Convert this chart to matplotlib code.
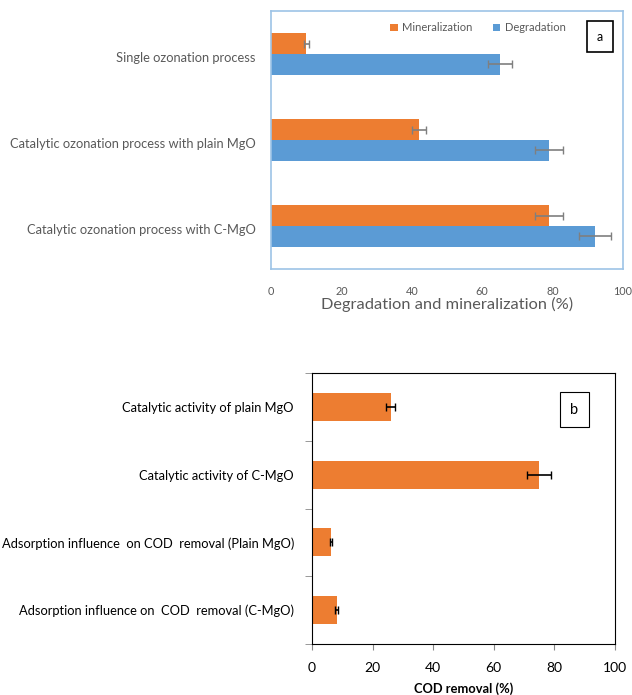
import numpy as np
import matplotlib.pyplot as plt
from matplotlib.patches import Rectangle

plt.rcParams['font.family'] = ['Lato', 'DejaVu Sans']

# panel a: ozonation processes
processes = ["Single ozonation process",
             "Catalytic ozonation process with plain MgO",
             "Catalytic ozonation process with C-MgO"]
mineralization = [10, 42, 79]
mineralization_err = [0.7, 2, 4]
degradation = [65, 79, 92]
degradation_err = [3.4, 4, 4.6]

# panel b: COD removal
cod_labels = ["Catalytic activity of plain MgO",
              "Catalytic activity of C-MgO",
              "Adsorption influence  on COD  removal (Plain MgO)",
              "Adsorption influence on  COD  removal (C-MgO)"]
cod_removal = [26, 75, 6.3, 8.1]
cod_err = [1.5, 4, 0.4, 0.4]

orange = "#ED7D31"
blue = "#5B9BD5"
grey_txt = "#595959"
W, H = 632, 695

fig = plt.figure(figsize=(W / 100, H / 100), dpi=100)


def label_box(axis, x0, y0, w, h, txt, fs, lw):
    axis.add_patch(Rectangle((x0, y0), w, h, transform=axis.transAxes, fc="white",
                             ec="black", lw=lw, zorder=5))
    axis.text(x0 + w / 2, y0 + h / 2, txt, transform=axis.transAxes, ha="center",
              va="center", fontsize=fs, zorder=6)


# ---- a ----
ax = fig.add_axes([271 / W, 1 - 269 / H, 352 / W, 258 / H])
y = np.arange(len(processes))
bh = 0.244
ax.barh(y - bh / 2, mineralization, height=bh, color=orange, label="Mineralization",
        xerr=mineralization_err, error_kw=dict(ecolor="#7f7f7f", capsize=3, elinewidth=1.2))
ax.barh(y + bh / 2, degradation, height=bh, color=blue, label="Degradation",
        xerr=degradation_err, error_kw=dict(ecolor="#7f7f7f", capsize=3, elinewidth=1.2))
ax.set_ylim(2.5, -0.5)
ax.set_xlim(0, 100)
ax.set_yticks(y + 0.03)
ax.set_yticklabels(processes, fontsize=9.3, color=grey_txt)
ax.set_xticks(range(0, 101, 20))
ax.tick_params(axis="x", length=0, labelsize=7.8, labelcolor=grey_txt, pad=12)
ax.tick_params(axis="y", length=0, pad=11)
for s in ax.spines.values():
    s.set_color("#9DC3E6")
    s.set_linewidth(1.2)
ax.set_xlabel("Degradation and mineralization (%)", fontsize=11.8, color=grey_txt, labelpad=0)
ax.legend(loc="upper left", bbox_to_anchor=(0.31, 0.995), ncol=2, frameon=False,
          fontsize=8, labelcolor=grey_txt, handlelength=0.7, handleheight=0.7,
          handletextpad=0.4, columnspacing=1.8)
label_box(ax, 0.898, 0.841, 0.074, 0.12, "a", 9, 1.2)

# ---- b ----
bx = fig.add_axes([312 / W, 1 - 644 / H, 303 / W, 271 / H])
yb = np.arange(len(cod_labels))
bx.barh(yb, cod_removal, height=0.41, color=orange,
        xerr=cod_err, error_kw=dict(ecolor="black", capsize=3, elinewidth=1.2))
bx.set_ylim(3.5, -0.5)
bx.set_xlim(0, 100)
bx.set_yticks(yb)
bx.set_yticklabels(cod_labels, fontsize=9.3)
bx.set_yticks(np.arange(-0.5, 3.6, 1), minor=True)
bx.tick_params(axis="y", which="major", length=0, pad=13)
bx.tick_params(axis="y", which="minor", length=5, color="#888888")
bx.set_xticks(range(0, 101, 20))
bx.tick_params(axis="x", length=4, color="#888888", labelsize=10, pad=9)
for s in bx.spines.values():
    s.set_color("black")
    s.set_linewidth(0.8)
bx.set_xlabel("COD removal (%)", fontsize=9.3, fontweight="bold", labelpad=6)
label_box(bx, 0.818, 0.8, 0.096, 0.129, "b", 10.5, 0.8)

fig.savefig("out.png", dpi=100)
